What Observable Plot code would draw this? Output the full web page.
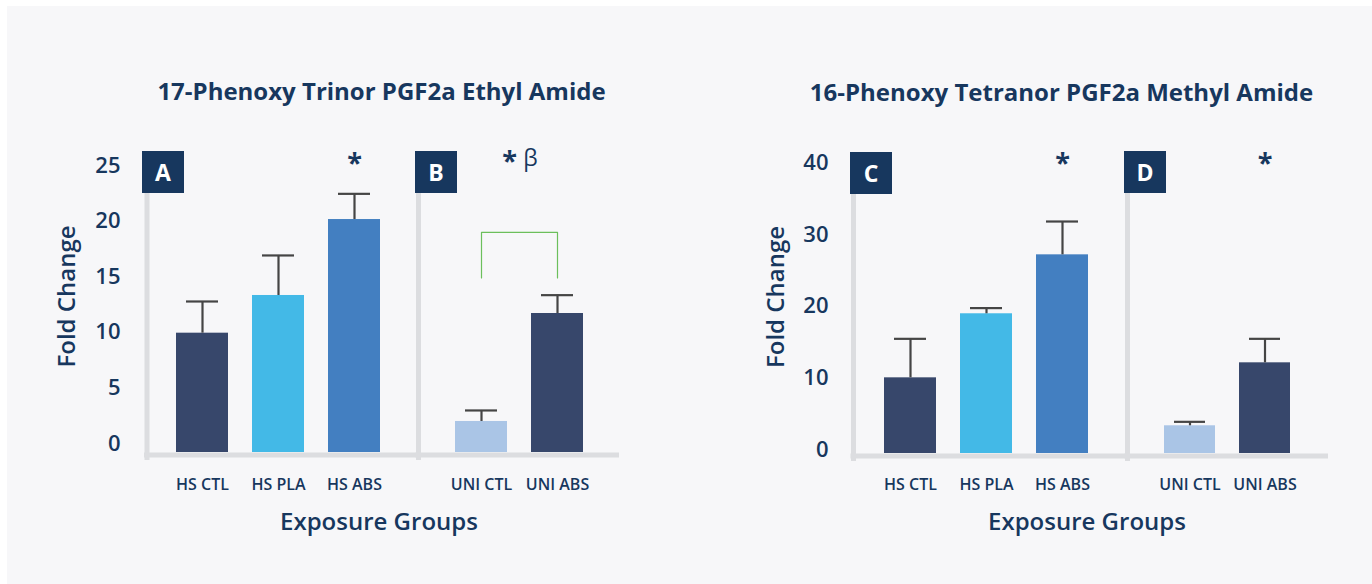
<!DOCTYPE html>
<html>
<head>
<meta charset="utf-8">
<script src="https://cdn.jsdelivr.net/npm/d3@7"></script>
<script src="https://cdn.jsdelivr.net/npm/@observablehq/plot@0.6"></script>
<style>
  html, body { margin: 0; padding: 0; background: #ffffff; }
  #stage { position: relative; width: 1372px; height: 584px; overflow: hidden; font-family: "Open Sans", sans-serif; }
  #bg { position: absolute; left: 7px; top: 6px; right: 0; bottom: 0; background: #f7f7f9; }
  .abs { position: absolute; }
  .title { position: absolute; width: 640px; text-align: center; font-size: 24px; font-weight: 700; color: #17375e; line-height: 30px; white-space: nowrap; }
  .xlab { position: absolute; width: 400px; text-align: center; font-size: 24px; font-weight: 600; color: #17375e; line-height: 30px; white-space: nowrap; }
  .box { position: absolute; width: 42px; height: 42px; background: #17375e; color: #ffffff; font-weight: 700; font-size: 23px; line-height: 42px; text-align: center; }
</style>
</head>
<body>
<div id="stage">
  <div id="bg"></div>
</div>
<script>
// ---------- data ----------
const allGroups = ["HS CTL", "HS PLA", "HS ABS", "UNI CTL", "UNI ABS"];
const groupsHS = ["HS CTL", "HS PLA", "HS ABS"];
const groupsUNI = ["UNI CTL", "UNI ABS"];

// Chart 1: 17-Phenoxy Trinor PGF2a Ethyl Amide
const chart1Title = "17-Phenoxy Trinor PGF2a Ethyl Amide";
const chart1HSMeans = [10.73, 14.12, 20.95];
const chart1HSErrors = [2.85, 3.6, 2.31];
const chart1UNIMeans = [2.79, 12.5];
const chart1UNIErrors = [0.99, 1.65];
const chart1Ticks = [0, 5, 10, 15, 20, 25];
const chart1Stars = [{group: "HS ABS", label: "*"}];
const chart1Bracket = [
  {group: "UNI CTL", y: 15.7}, {group: "UNI CTL", y: 19.8},
  {group: "UNI ABS", y: 19.8}, {group: "UNI ABS", y: 15.7}
];

// Chart 2: 16-Phenoxy Tetranor PGF2a Methyl Amide
const chart2Title = "16-Phenoxy Tetranor PGF2a Methyl Amide";
const chart2HSMeans = [10.54, 19.46, 27.67];
const chart2HSErrors = [5.43, 0.79, 4.64];
const chart2UNIMeans = [3.86, 12.63];
const chart2UNIErrors = [0.55, 3.34];
const chart2Ticks = [0, 10, 20, 30, 40];
const chart2StarsHS = [{group: "HS ABS", label: "*"}];
const chart2StarsUNI = [{group: "UNI ABS", label: "*"}];

const panelLetters = ["A", "B", "C", "D"];
const yLabel = "Fold Change";
const xLabel = "Exposure Groups";

// ---------- styles ----------
const barColors = ["#37476b", "#43b9e7", "#437fc1", "#aac5e6", "#37476b"];
const textColor = "#17375e";
const axisGray = "#dcdde0";
const errColor = "#454545";
const bracketColor = "#6cbf5c";

const stage = document.getElementById("stage");

function rows(groups, means, errs) {
  return groups.map((g, i) => ({group: g, mean: means[i], err: errs[i]}));
}

function panel(o) {
  const data = rows(o.groups, o.means, o.errs);
  const marks = [
    Plot.barY(data, {x: "group", y: "mean", fill: "group"}),
    Plot.ruleX(data, {x: "group", y1: "mean", y2: d => d.mean + d.err, stroke: errColor, strokeWidth: 2.2}),
    Plot.tickY(data, {x: "group", y: d => d.mean + d.err, stroke: errColor, strokeWidth: 2.2, insetLeft: 10, insetRight: 10}),
    Plot.ruleY([0], {stroke: axisGray, strokeWidth: 5, dy: 2.5, insetLeft: -2.5}),
    Plot.frame({anchor: "left", stroke: axisGray, strokeWidth: 5, insetTop: 45, insetBottom: -5}),
    Plot.axisX({tickSize: 0, tickPadding: o.xPad, fontSize: 16, fontWeight: 600, label: null})
  ];
  if (o.ticks) {
    marks.push(Plot.axisY({ticks: o.ticks, tickSize: 0, tickPadding: o.yPad, dy: o.yDy, fontSize: 22, fontWeight: 600, label: null}));
    marks.push(Plot.text([yLabel], {text: d => d, frameAnchor: "left", textAnchor: "middle", rotate: -90, dx: o.yLabDx, fontSize: 24, fontWeight: 600, fill: textColor}));
  }
  if (o.stars) {
    marks.push(Plot.text(o.stars, {x: "group", text: "label", frameAnchor: "top", lineAnchor: "top", dy: 12, fontSize: 27, fontWeight: 700, fill: textColor}));
  }
  if (o.extra) marks.push(...o.extra);
  const svg = Plot.plot({
    width: o.width,
    height: o.height,
    marginTop: 0,
    marginBottom: o.height - o.base,
    marginLeft: o.marginLeft,
    marginRight: 0,
    style: {background: "transparent", fontFamily: "Open Sans", color: textColor, overflow: "visible"},
    x: {domain: o.groups, paddingInner: 0.3158, paddingOuter: 0.1579, insetLeft: o.insetLeft, insetRight: o.insetRight, label: null},
    y: {domain: [0, o.yMax], label: null, axis: o.ticks ? undefined : null},
    color: {domain: allGroups, range: barColors},
    marks
  });
  const wrap = document.createElement("div");
  wrap.className = "abs";
  wrap.style.left = o.left + "px";
  wrap.style.top = o.top + "px";
  wrap.appendChild(svg);
  stage.appendChild(wrap);
}

// Panel A
panel({groups: groupsHS, means: chart1HSMeans, errs: chart1HSErrors,
  left: 40, top: 140, width: 378, height: 362, base: 312, marginLeft: 106.5,
  insetLeft: 17.5, insetRight: 26, yMax: 312 / 11.12, ticks: chart1Ticks,
  yPad: 26.5, yDy: -9, yLabDx: -80, xPad: 26, stars: chart1Stars});

// Panel B
panel({groups: groupsUNI, means: chart1UNIMeans, errs: chart1UNIErrors,
  left: 408, top: 140, width: 211, height: 362, base: 312, marginLeft: 10,
  insetLeft: 25, insetRight: 24, yMax: 312 / 11.12, xPad: 26,
  extra: [
    Plot.line(chart1Bracket, {x: "group", y: "y", stroke: bracketColor, strokeWidth: 1.2}),
    Plot.text(["*"], {text: d => d, frameAnchor: "top", lineAnchor: "top", dx: -9.5, dy: 10, fontSize: 27, fontWeight: 700, fill: textColor}),
    Plot.text(["β"], {text: d => d, frameAnchor: "top", lineAnchor: "top", dx: 11.5, dy: 9, fontSize: 23, fontWeight: 400, fill: textColor})
  ]});

// Panel C
panel({groups: groupsHS, means: chart2HSMeans, errs: chart2HSErrors,
  left: 750, top: 140, width: 376.5, height: 363, base: 313, marginLeft: 103,
  insetLeft: 19, insetRight: 26.5, yMax: 313 / 7.18, ticks: chart2Ticks,
  yPad: 25, yDy: -3.5, yLabDx: -77.5, xPad: 25, stars: chart2StarsHS});

// Panel D
panel({groups: groupsUNI, means: chart2UNIMeans, errs: chart2UNIErrors,
  left: 1116.5, top: 140, width: 211, height: 363, base: 313, marginLeft: 10,
  insetLeft: 24.5, insetRight: 24.7, yMax: 313 / 7.18, xPad: 25, stars: chart2StarsUNI});

// HTML text: titles, x labels, panel letter boxes
function addDiv(cls, text, left, top) {
  const d = document.createElement("div");
  d.className = cls;
  d.textContent = text;
  d.style.left = left + "px";
  d.style.top = top + "px";
  stage.appendChild(d);
}
addDiv("title", chart1Title, 381.5 - 320, 76);
addDiv("title", chart2Title, 1061.5 - 320, 77);
addDiv("xlab", xLabel, 379 - 200, 506);
addDiv("xlab", xLabel, 1087 - 200, 506);
addDiv("box", panelLetters[0], 142, 151);
addDiv("box", panelLetters[1], 415, 151);
addDiv("box", panelLetters[2], 850, 152);
addDiv("box", panelLetters[3], 1124, 151);
</script>
</body>
</html>
